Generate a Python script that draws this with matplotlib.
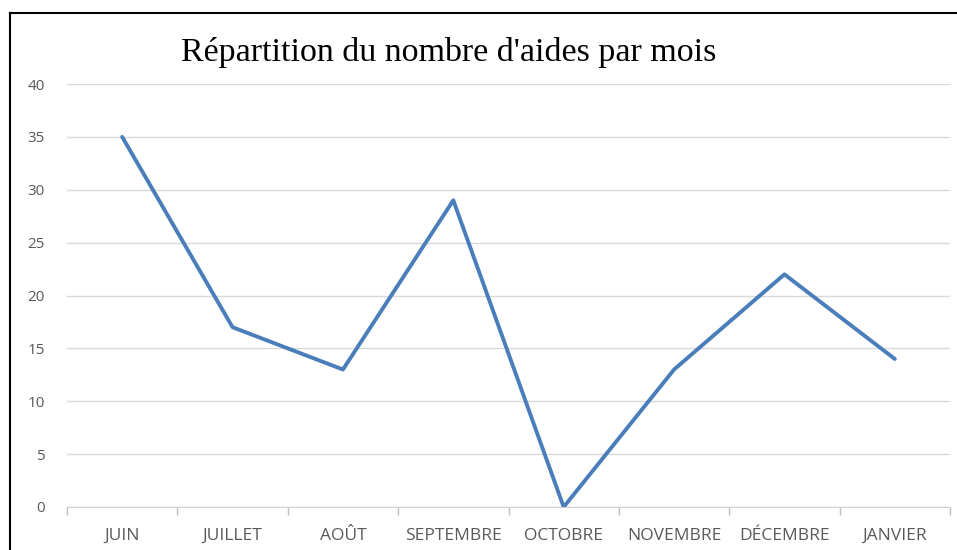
import matplotlib.pyplot as plt
from matplotlib.lines import Line2D
import numpy as np

mois = ['JUIN', 'JUILLET', 'AOÛT', 'SEPTEMBRE', 'OCTOBRE', 'NOVEMBRE', 'DÉCEMBRE', 'JANVIER']
aides = [35, 17, 13, 29, 0, 13, 22, 14]
y_ticks = [0, 5, 10, 15, 20, 25, 30, 35, 40]

W, H = 957, 550
fig = plt.figure(figsize=(W / 100, H / 100), dpi=100)
ax = fig.add_axes([67 / W, 1 - 507 / H, (950 - 67) / W, (507 - 84) / H])

x = np.arange(len(mois)) + 0.5
ax.plot(x, aides, color='#4a7ebb', linewidth=2.8, solid_capstyle='round', zorder=3)

ax.set_xlim(0, len(mois))
ax.set_ylim(0, 40)
ax.set_yticks(y_ticks)
ax.set_yticklabels([str(v) for v in y_ticks], fontsize=11, color='#595959', family='Open Sans')
ax.set_xticks(x)
ax.set_xticklabels(mois, fontsize=12.5, color='#595959', family='Open Sans')
ax.set_xticks(np.arange(len(mois) + 1), minor=True)

ax.grid(axis='y', color='#d9d9d9', linewidth=1)
ax.tick_params(axis='y', length=0, pad=16)
ax.tick_params(axis='x', which='major', length=0, pad=15)
ax.tick_params(axis='x', which='minor', length=6, color='#bfbfbf', width=1, direction='out')
for s in ['top', 'right', 'left']:
    ax.spines[s].set_visible(False)
ax.spines['bottom'].set_color('#d0d0d0')
ax.set_axisbelow(True)

fig.text(449 / W, 1 - 53 / H, "Répartition du nombre d'aides par mois",
         ha='center', va='center', fontsize=24.5, family='Liberation Serif')

# cadre
fig.add_artist(Line2D([9.5 / W, 1], [1 - 12.5 / H] * 2, color='black', linewidth=1.5, transform=fig.transFigure))
fig.add_artist(Line2D([9.5 / W] * 2, [0, 1 - 12.5 / H], color='black', linewidth=1.5, transform=fig.transFigure))

fig.savefig('out.png', dpi=100)
